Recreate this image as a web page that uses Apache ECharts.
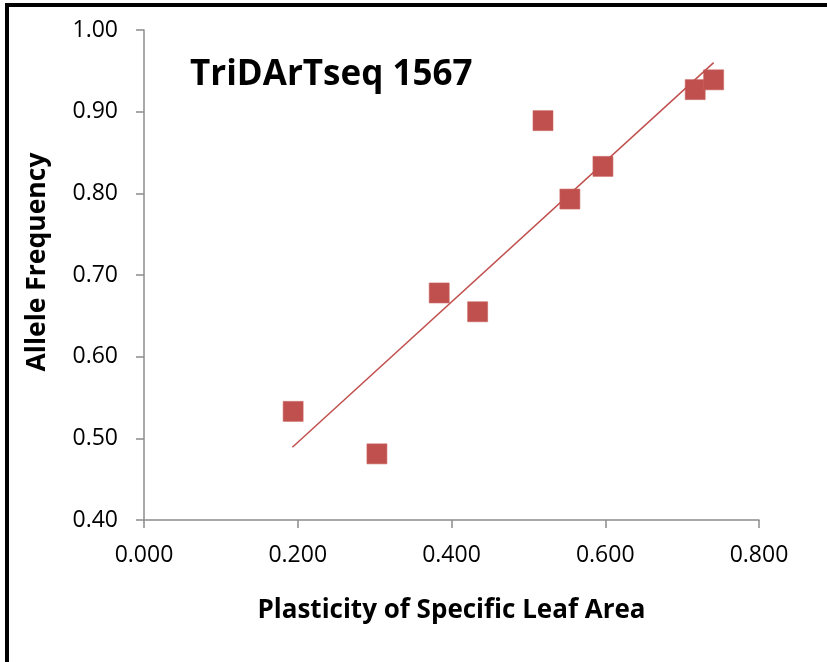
<!DOCTYPE html>
<html>
<head>
<meta charset="utf-8">
<script src="https://cdn.jsdelivr.net/npm/echarts@6/dist/echarts.min.js"></script>
<style>
html,body{margin:0;padding:0;background:#fff;}
#chart{width:827px;height:662px;}
</style>
</head>
<body>
<div id="chart"></div>
<script>
const titleText = 'TriDArTseq 1567';
const xName = 'Plasticity of Specific Leaf Area';
const yName = 'Allele Frequency';
const plasticity = [0.194, 0.303, 0.384, 0.434, 0.519, 0.554, 0.597, 0.717, 0.741];
const alleleFreq = [0.533, 0.481, 0.678, 0.655, 0.889, 0.793, 0.833, 0.927, 0.939];
const trendX = [0.193, 0.741];
const trendY = [0.489, 0.960];

const points = plasticity.map((x, i) => [x, alleleFreq[i]]);
const trend = trendX.map((x, i) => [x, trendY[i]]);

const chart = echarts.init(document.getElementById('chart'), null, {renderer: 'canvas'});
const axisColor = '#8c8c8c';
const font = 'Open Sans';
chart.setOption({
  animation: false,
  backgroundColor: '#ffffff',
  grid: {left: 144, right: 68, top: 30, bottom: 142, containLabel: false},
  xAxis: {
    type: 'value', min: 0, max: 0.8, interval: 0.2,
    name: xName, nameLocation: 'middle', nameGap: 78,
    nameTextStyle: {fontFamily: font, fontWeight: 'bold', fontSize: 26, color: '#000'},
    axisLine: {show: true, lineStyle: {color: axisColor, width: 1.5}},
    axisTick: {show: true, length: 8, lineStyle: {color: axisColor, width: 1.5}},
    axisLabel: {fontFamily: font, fontSize: 23, color: '#000', margin: 24,
      formatter: v => v.toFixed(3)},
    splitLine: {show: false}
  },
  yAxis: {
    type: 'value', min: 0.4, max: 1.0, interval: 0.1,
    axisLine: {show: true, lineStyle: {color: axisColor, width: 1.5}},
    axisTick: {show: true, length: 8, lineStyle: {color: axisColor, width: 1.5}},
    axisLabel: {fontFamily: font, fontSize: 23, color: '#000', margin: 26,
      formatter: v => v.toFixed(2)},
    splitLine: {show: false}
  },
  graphic: [
    {type: 'rect', shape: {x: 7, y: 5, width: 1000, height: 1000},
      style: {fill: 'none', stroke: '#000', lineWidth: 4}, silent: true},
    {type: 'text', left: 190, top: 58,
      style: {text: titleText, fontFamily: font, fontWeight: 'bold', fontSize: 35, fill: '#000'}},
    {type: 'text', x: 37, y: 262, rotation: Math.PI / 2,
      style: {text: yName, fontFamily: font, fontWeight: 'bold', fontSize: 26.5, fill: '#000',
        align: 'center', verticalAlign: 'middle'}}
  ],
  series: [
    {type: 'scatter', data: points, symbol: 'rect', symbolSize: 20,
      itemStyle: {color: '#C0504D', opacity: 1, borderColor: '#c96461', borderWidth: 0.6}, z: 2},
    {type: 'line', data: trend, showSymbol: false, symbol: 'none',
      lineStyle: {color: '#C0504D', width: 1.5}, z: 3}
  ]
});
</script>
</body>
</html>
